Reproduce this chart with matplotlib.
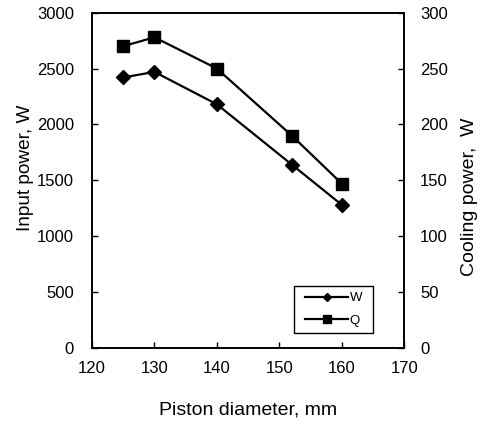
import matplotlib
matplotlib.use("Agg")
import matplotlib.pyplot as plt
from matplotlib.patches import Rectangle

plt.rcParams['font.family'] = ['Liberation Sans', 'DejaVu Sans']
plt.rcParams['font.size'] = 12

diameter = [125, 130, 140, 152, 160]
input_power = [2420, 2470, 2180, 1640, 1280]
cooling_power = [270, 278, 250, 190, 147]

fig = plt.figure(figsize=(4.84, 4.24), dpi=100)
ax = fig.add_axes([0.190, 0.180, 0.645, 0.790])
ax2 = ax.twinx()

l1, = ax.plot(diameter, input_power, color='black', lw=1.6, marker='D', ms=7, label='W')
l2, = ax2.plot(diameter, cooling_power, color='black', lw=1.6, marker='s', ms=8, label='Q')

ax.set_xlim(120, 170)
ax.set_ylim(0, 3000)
ax2.set_ylim(0, 300)
ax.set_xticks(range(120, 171, 10))
ax.set_yticks(range(0, 3001, 500))
ax2.set_yticks(range(0, 301, 50))

for a in (ax, ax2):
    for s in a.spines.values():
        s.set_linewidth(1.2)
ax.tick_params(axis='x', direction='in', length=4, width=1, labelsize=12, pad=9.5)
ax.tick_params(axis='y', direction='in', length=4, width=1, labelsize=12, pad=13)
ax2.tick_params(axis='y', direction='in', length=4, width=1, labelsize=12, pad=11.5)

ax.set_xlabel('Piston diameter, mm', fontsize=14, labelpad=18.5)
ax.set_ylabel('Input power, W', fontsize=13.7, labelpad=2)
ax2.set_ylabel('Cooling power,  W', fontsize=14, labelpad=9.5)
ax.yaxis.label.set_y(0.536)
ax2.yaxis.label.set_y(0.45)

# legend frame
ax2.add_patch(Rectangle((0.647, 0.044), 0.254, 0.140, transform=ax2.transAxes,
                        facecolor='white', edgecolor='black', lw=1.0, zorder=4))
leg = ax2.legend(handles=[l1, l2], loc='center', bbox_to_anchor=(0.774, 0.114),
                 frameon=False, handlelength=3.3, handletextpad=0.1, markerscale=0.65,
                 borderpad=0, labelspacing=0.8, fontsize=9.5, borderaxespad=0)
leg.set_zorder(5)

fig.savefig('out.png', dpi=100)
